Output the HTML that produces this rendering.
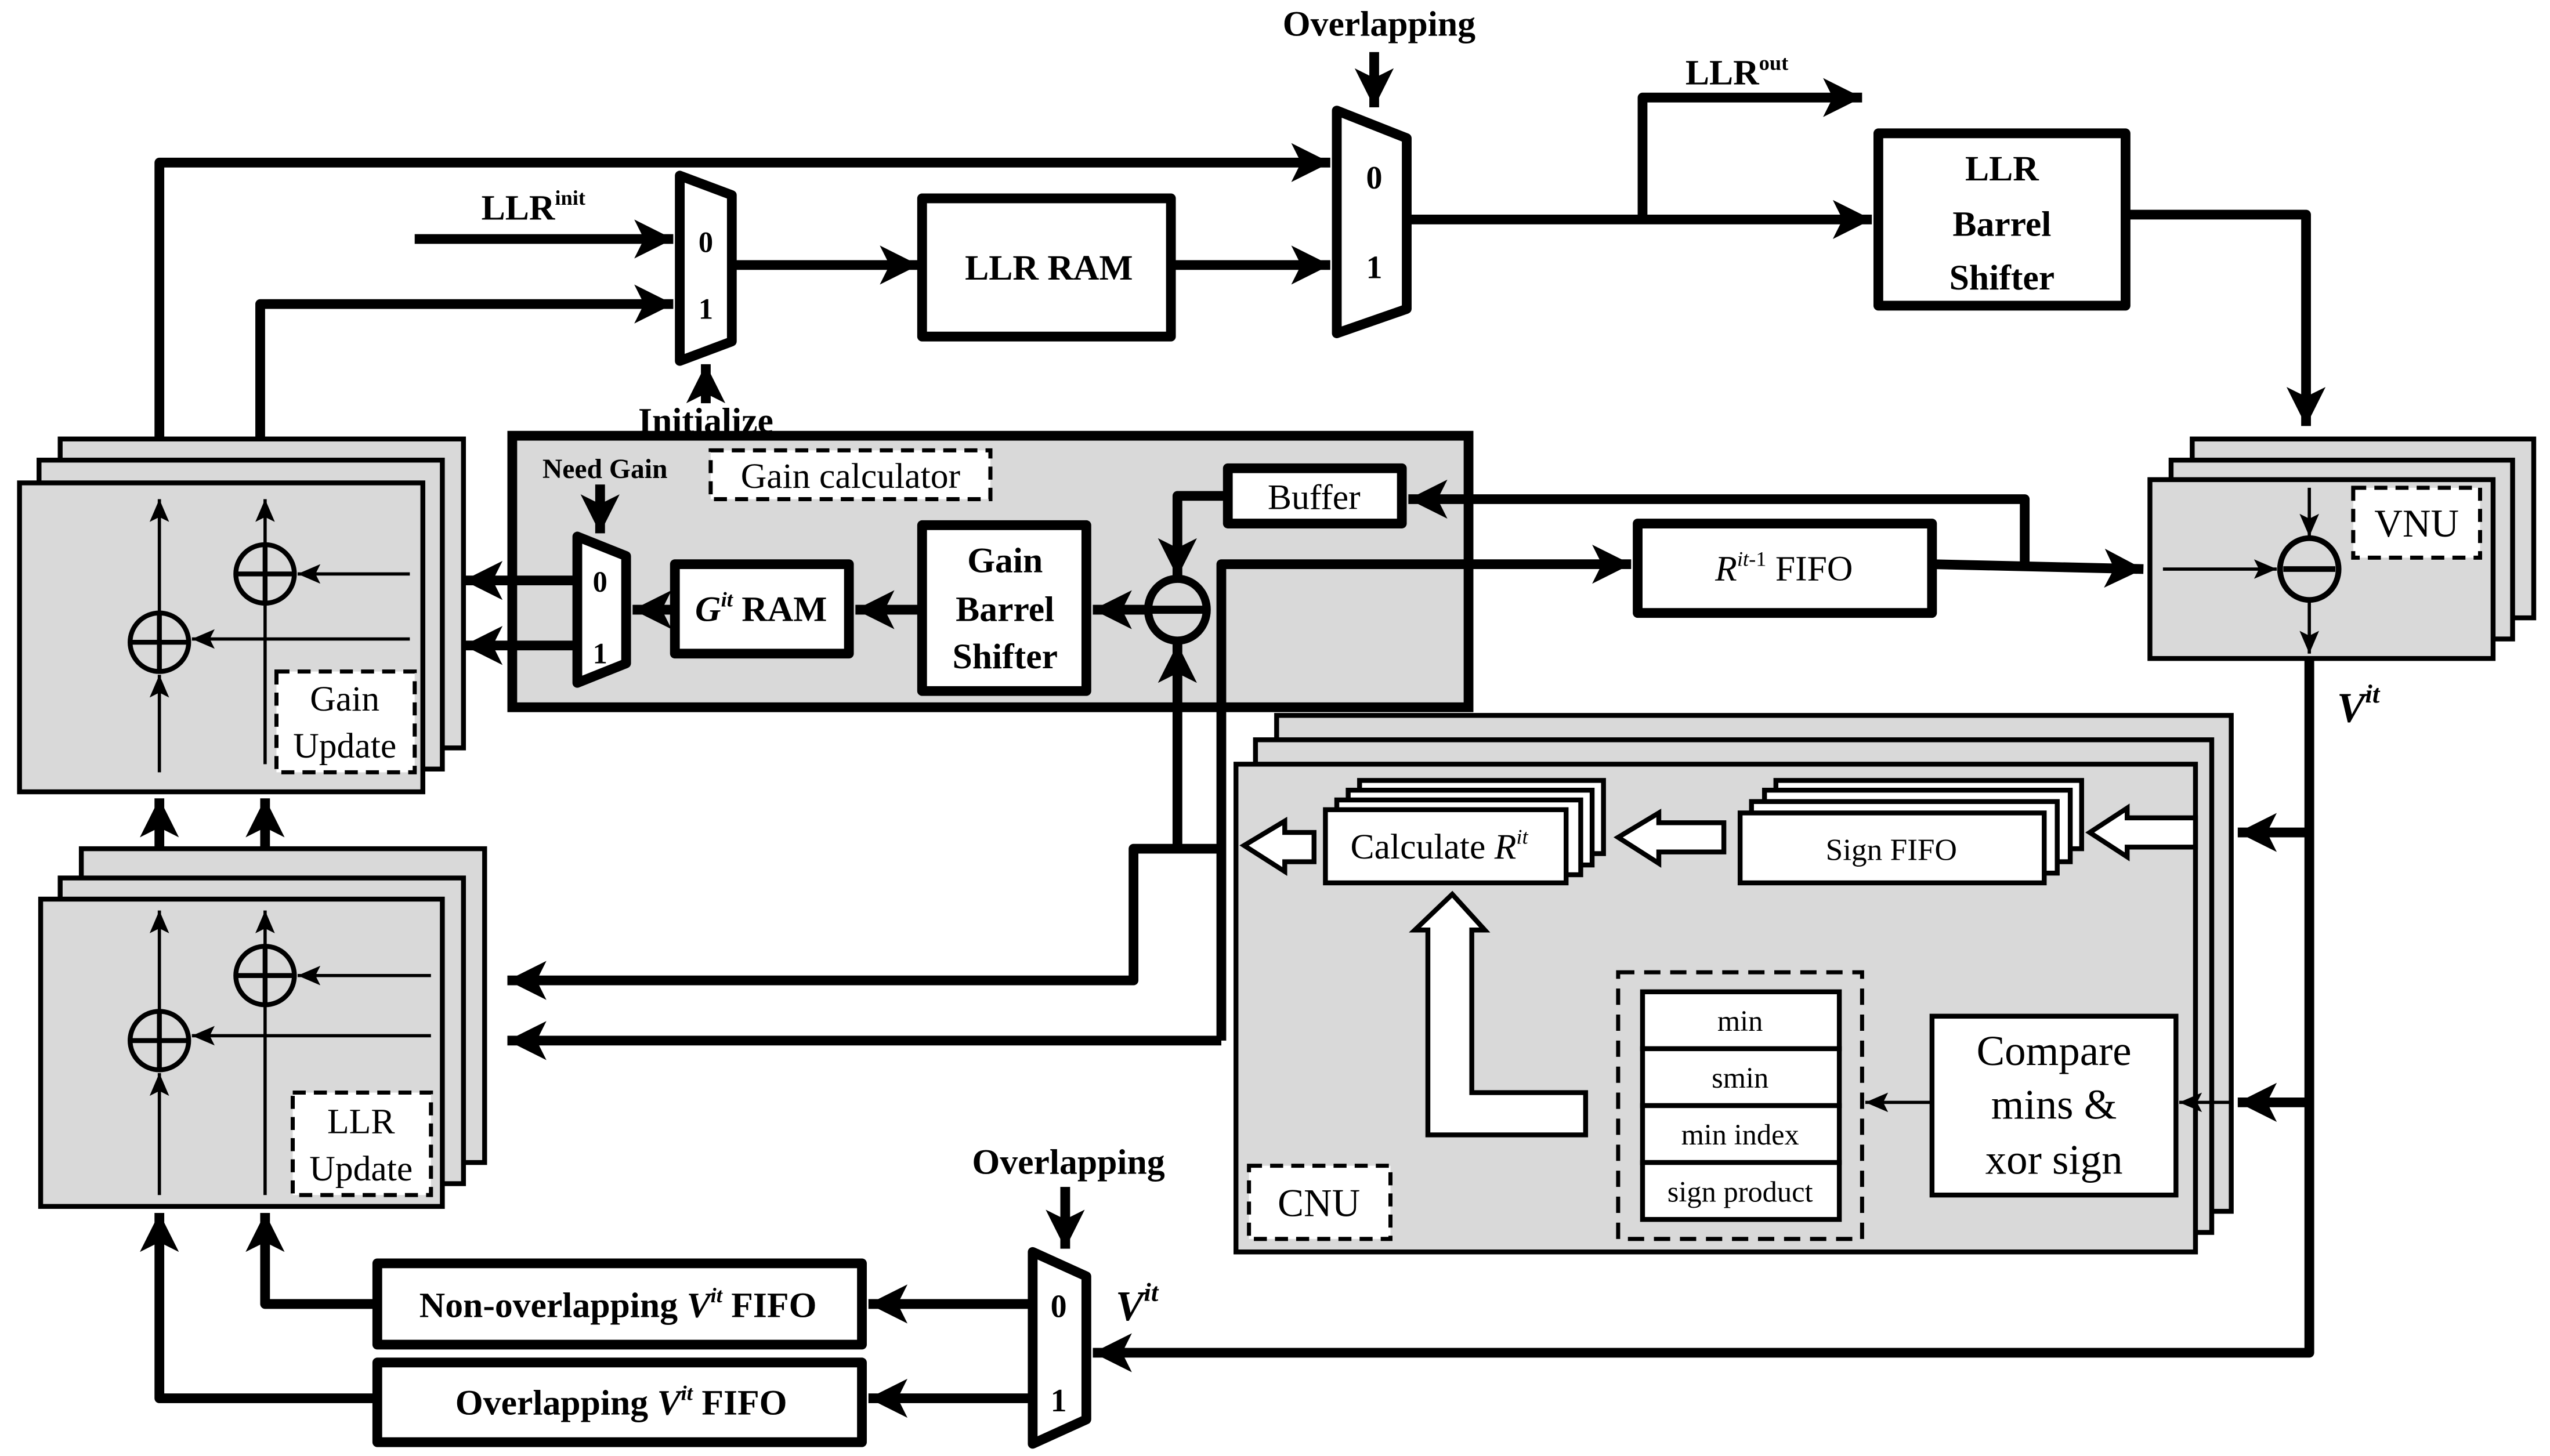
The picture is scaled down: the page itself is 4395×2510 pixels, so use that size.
<!DOCTYPE html>
<html><head><meta charset="utf-8"><style>
html,body{margin:0;padding:0;background:#fff;}
svg{display:block;}
svg, svg text{font-family:"Liberation Serif","Times New Roman",serif;fill:#000;}
</style></head><body>
<svg width="4395" height="2510" viewBox="0 0 1568 895.5" preserveAspectRatio="none" xmlns="http://www.w3.org/2000/svg" font-family="Liberation Serif, serif">
<defs>
<marker id="a" markerUnits="userSpaceOnUse" markerWidth="30" markerHeight="30" refX="24" refY="12" orient="auto">
<path d="M0,0 L24,12 L0,24 L6,12 Z" fill="#000"/></marker>
<marker id="t" markerUnits="userSpaceOnUse" markerWidth="20" markerHeight="20" refX="14" refY="6" orient="auto">
<path d="M0,0 L14,6 L0,12 L3,6 Z" fill="#000"/></marker>
</defs>
<g fill="none" stroke="#000" stroke-width="6" stroke-linejoin="round">
<path d="M822,68 L865,85 L865,190 L822,205 Z" fill="#fff"/>
<path d="M418,108 L450,120 L450,210 L418,222 Z" fill="#fff"/>
<path d="M845,32 L845,66" marker-end="url(#a)"/>
<path d="M98,270 L98,100 L818,100" marker-end="url(#a)"/>
<path d="M255,147 L414,147" marker-end="url(#a)"/>
<path d="M160,270 L160,187 L414,187" marker-end="url(#a)"/>
<path d="M434,248 L434,224" marker-end="url(#a)"/>
<path d="M450,163 L565,163" marker-end="url(#a)"/>
<rect x="567" y="122" width="153" height="85" fill="#fff"/>
<path d="M720,163 L818,163" marker-end="url(#a)"/>
<path d="M865,135 L1151,135" marker-end="url(#a)"/>
<path d="M1010,135 L1010,60 L1145,60" marker-end="url(#a)"/>
<rect x="1155" y="82" width="152" height="106" fill="#fff"/>
<path d="M1307,132 L1418,132 L1418,262" marker-end="url(#a)"/>
</g>
<g stroke="#000" stroke-width="3" fill="#d9d9d9">
<rect x="1348" y="270" width="210" height="110"/>
<rect x="1335" y="283" width="210" height="110"/>
<rect x="1322" y="295" width="211" height="110"/>
</g>
<rect x="1447" y="300" width="78" height="43" fill="#fff" stroke="#000" stroke-width="2.5" stroke-dasharray="8,5"/>
<g fill="none" stroke="#000" stroke-width="2">
<path d="M1420,300 L1420,330" marker-end="url(#t)"/>
<path d="M1330,350 L1400,350" marker-end="url(#t)"/>
<path d="M1420,368 L1420,402" marker-end="url(#t)"/>
</g>
<ellipse cx="1420" cy="350" rx="18" ry="19" fill="#d9d9d9" stroke="#000" stroke-width="3.5"/>
<line x1="1404" y1="350" x2="1436" y2="350" stroke="#000" stroke-width="3.5"/>
<rect x="315" y="268" width="588" height="167" fill="#d9d9d9" stroke="#000" stroke-width="6"/>
<rect x="437" y="277" width="172" height="30" fill="#fff" stroke="#000" stroke-width="2.5" stroke-dasharray="8,5"/>
<g fill="none" stroke="#000" stroke-width="6" stroke-linejoin="round">
<path d="M355,330 L385,342 L385,408 L355,420 Z" fill="#fff"/>
<path d="M369,298 L369,328" marker-end="url(#a)"/>
<rect x="415" y="347" width="107" height="55" fill="#fff"/>
<rect x="567" y="323" width="101" height="102" fill="#fff"/>
<rect x="755" y="288" width="107" height="34" fill="#fff"/>
<path d="M567,375 L526,375" marker-end="url(#a)"/>
<path d="M415,375 L389,375" marker-end="url(#a)"/>
<path d="M706,375 L672,375" marker-end="url(#a)"/>
<path d="M755,305 L724,305 L724,355" marker-end="url(#a)"/>
<path d="M1245,347 L1245,307 L866,307" marker-end="url(#a)"/>
<path d="M751,640 L751,347 L1003,347" marker-end="url(#a)"/>
<path d="M751,640 L312,640" marker-end="url(#a)"/>
<path d="M751,522 L697,522 L697,603 L312,603" marker-end="url(#a)"/>
<path d="M724,522 L724,396" marker-end="url(#a)"/>
<rect x="1007" y="322" width="181" height="55" fill="#fff"/>
<path d="M1188,347 L1318,350" marker-end="url(#a)"/>
<path d="M355,357 L285,357" marker-end="url(#a)"/>
<path d="M355,397 L285,397" marker-end="url(#a)"/>
</g>
<ellipse cx="724" cy="375" rx="18" ry="19" fill="#d9d9d9" stroke="#000" stroke-width="5"/>
<line x1="708" y1="375" x2="740" y2="375" stroke="#000" stroke-width="5"/>
<g stroke="#000" stroke-width="3" fill="#d9d9d9">
<rect x="37" y="270" width="248" height="190"/>
<rect x="24" y="283" width="248" height="190"/>
<rect x="12" y="297" width="248" height="190"/>
<rect x="50" y="522" width="248" height="193"/>
<rect x="37" y="540" width="248" height="188"/>
<rect x="25" y="553" width="247" height="189"/>
</g>
<rect x="170" y="413" width="85" height="62" fill="#fff" stroke="#000" stroke-width="2.5" stroke-dasharray="8,5"/>
<rect x="180" y="672" width="85" height="63" fill="#fff" stroke="#000" stroke-width="2.5" stroke-dasharray="8,5"/>
<g fill="none" stroke="#000" stroke-width="2">
<path d="M98,475 L98,415" marker-end="url(#t)"/>
<path d="M98,377 L98,307" marker-end="url(#t)"/>
<path d="M163,470 L163,307" marker-end="url(#t)"/>
<path d="M252,353 L183,353" marker-end="url(#t)"/>
<path d="M252,393 L118,393" marker-end="url(#t)"/>
<path d="M98,735 L98,660" marker-end="url(#t)"/>
<path d="M98,622 L98,560" marker-end="url(#t)"/>
<path d="M163,735 L163,560" marker-end="url(#t)"/>
<path d="M265,600 L183,600" marker-end="url(#t)"/>
<path d="M265,637 L118,637" marker-end="url(#t)"/>
</g>
<g fill="#d9d9d9" stroke="#000" stroke-width="3">
<circle cx="98" cy="395" r="18"/><circle cx="163" cy="353" r="18"/>
<circle cx="98" cy="640" r="18"/><circle cx="163" cy="600" r="18"/>
</g>
<g stroke="#000" stroke-width="3">
<path d="M80,395 H116 M98,377 V413 M145,353 H181 M163,335 V371 M80,640 H116 M98,622 V658 M145,600 H181 M163,582 V618"/>
</g>
<g fill="none" stroke="#000" stroke-width="6" stroke-linejoin="round">
<path d="M98,522 L98,491" marker-end="url(#a)"/>
<path d="M163,522 L163,491" marker-end="url(#a)"/>
<path d="M635,770 L668,785 L668,873 L635,888 Z" fill="#fff"/>
<path d="M655,730 L655,768" marker-end="url(#a)"/>
<rect x="232" y="777" width="298" height="50" fill="#fff"/>
<rect x="232" y="838" width="298" height="49" fill="#fff"/>
<path d="M635,802 L534,802" marker-end="url(#a)"/>
<path d="M635,860 L534,860" marker-end="url(#a)"/>
<path d="M232,802 L163,802 L163,746" marker-end="url(#a)"/>
<path d="M232,860 L98,860 L98,746" marker-end="url(#a)"/>
<path d="M1420,405 L1420,832 L672,832" marker-end="url(#a)"/>
<path d="M1420,512 L1376,512" marker-end="url(#a)"/>
<path d="M1420,678 L1376,678" marker-end="url(#a)"/>
</g>
<g stroke="#000" stroke-width="3" fill="#d9d9d9">
<rect x="785" y="440" width="587" height="305"/>
<rect x="772" y="455" width="588" height="303"/>
<rect x="760" y="470" width="590" height="300"/>
</g>
<rect x="768" y="717" width="87" height="45" fill="#fff" stroke="#000" stroke-width="2.5" stroke-dasharray="8,5"/>
<g stroke="#000" stroke-width="3" fill="#fff">
<rect x="836" y="480" width="150" height="45"/>
<rect x="829" y="486" width="150" height="46"/>
<rect x="822" y="492" width="150" height="46"/>
<rect x="815" y="498" width="148" height="45"/>
<rect x="1092" y="480" width="188" height="42"/>
<rect x="1085" y="486" width="188" height="44"/>
<rect x="1077" y="493" width="188" height="44"/>
<rect x="1070" y="500" width="187" height="43"/>
<path d="M765,520 L790,505 L790,512 L808,512 L808,530 L790,530 L790,536 Z"/>
<path d="M995,515 L1020,500 L1020,506 L1060,506 L1060,524 L1020,524 L1020,531 Z"/>
<path d="M1285,512 L1308,497 L1308,503 L1350,503 L1350,521 L1308,521 L1308,527 Z"/>
<path d="M893,550 L913,572 L905,572 L905,672 L975,672 L975,698 L878,698 L878,572 L870,572 Z"/>
<rect x="1188" y="625" width="150" height="110"/>
<rect x="1010" y="610" width="121" height="35"/>
<rect x="1010" y="645" width="121" height="35"/>
<rect x="1010" y="680" width="121" height="35"/>
<rect x="1010" y="715" width="121" height="35"/>
</g>
<rect x="995" y="598" width="150" height="164" fill="none" stroke="#000" stroke-width="2.5" stroke-dasharray="10,6"/>
<g fill="none" stroke="#000" stroke-width="2">
<path d="M1188,678 L1147,678" marker-end="url(#t)"/>
<path d="M1372,678 L1340,678" marker-end="url(#t)"/>
</g>
<g font-family="Liberation Serif, serif" font-size="22" font-weight="bold" text-anchor="middle">
<text x="848" y="22">Overlapping</text>
<text x="328" y="135">LLR<tspan font-size="13" dy="-9">init</tspan></text>
<text x="1068" y="52">LLR<tspan font-size="13" dy="-9">out</tspan></text>
<text x="434" y="266">Initialize</text>
<text x="645" y="172">LLR RAM</text>
<text x="1231" y="111">LLR</text>
<text x="1231" y="145">Barrel</text>
<text x="1231" y="178">Shifter</text>
<text x="618" y="352">Gain</text>
<text x="618" y="382">Barrel</text>
<text x="618" y="411">Shifter</text>
<text x="468" y="382"><tspan font-style="italic">G</tspan><tspan font-size="13" font-style="italic" dy="-9">it</tspan><tspan dy="9"> RAM</tspan></text>
<text x="657" y="722">Overlapping</text>
<text x="380" y="810">Non-overlapping <tspan font-style="italic">V</tspan><tspan font-size="13" font-style="italic" dy="-9">it</tspan><tspan dy="9"> FIFO</tspan></text>
<text x="382" y="870">Overlapping <tspan font-style="italic">V</tspan><tspan font-size="13" font-style="italic" dy="-9">it</tspan><tspan dy="9"> FIFO</tspan></text>
<text x="845" y="116" font-size="20">0</text><text x="845" y="171" font-size="20">1</text>
<text x="434" y="155" font-size="18">0</text><text x="434" y="196" font-size="18">1</text>
<text x="369" y="364" font-size="18">0</text><text x="369" y="408" font-size="18">1</text>
<text x="651" y="810" font-size="20">0</text><text x="651" y="868" font-size="20">1</text>
</g>
<text x="372" y="294" font-family="Liberation Serif, serif" font-size="17" font-weight="bold" text-anchor="middle">Need Gain</text>
<g font-family="Liberation Serif, serif" font-size="26" font-weight="bold" font-style="italic">
<text x="1437" y="444">V<tspan font-size="16" dy="-12">it</tspan></text>
<text x="686" y="812">V<tspan font-size="16" dy="-12">it</tspan></text>
</g>
<g font-family="Liberation Serif, serif" font-size="22" text-anchor="middle">
<text x="808" y="313">Buffer</text>
<text x="523" y="300">Gain calculator</text>
<text x="1097" y="357"><tspan font-style="italic">R</tspan><tspan font-size="13" font-style="italic" dy="-9">it</tspan><tspan font-size="13">-1</tspan><tspan dy="9"> FIFO</tspan></text>
<text x="1486" y="330" font-size="24">VNU</text>
<text x="212" y="437">Gain</text>
<text x="212" y="466">Update</text>
<text x="222" y="697">LLR</text>
<text x="222" y="726">Update</text>
<text x="811" y="748" font-size="24">CNU</text>
<text x="885" y="528">Calculate <tspan font-style="italic">R</tspan><tspan font-size="13" font-style="italic" dy="-9">it</tspan></text>
<text x="1163" y="529" font-size="19">Sign FIFO</text>
<text x="1070" y="634" font-size="18">min</text>
<text x="1070" y="669" font-size="18">smin</text>
<text x="1070" y="704" font-size="18">min index</text>
<text x="1070" y="739" font-size="18">sign product</text>
<text x="1263" y="655" font-size="26">Compare</text>
<text x="1263" y="688" font-size="26">mins &amp;</text>
<text x="1263" y="722" font-size="26">xor sign</text>
</g>
</svg>
</body></html>
